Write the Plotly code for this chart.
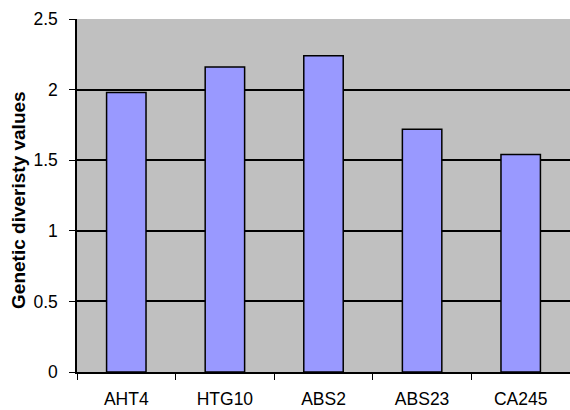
import plotly.graph_objects as go

# Genetic diversity per microsatellite locus
loci = ["AHT4", "HTG10", "ABS2", "ABS23", "CA245"]
diversity = [1.98, 2.16, 2.24, 1.72, 1.54]
y_ticks = [0, 0.5, 1, 1.5, 2, 2.5]
y_tick_labels = ["0", "0.5", "1", "1.5", "2", "2.5"]
y_title = "Genetic diveristy values"

font_family = "Liberation Sans, Arial, sans-serif"

fig = go.Figure(
    go.Bar(
        x=loci,
        y=diversity,
        width=0.4,
        marker=dict(color="#9999FF", line=dict(color="black", width=1.5)),
    )
)

fig.update_layout(
    width=570,
    height=410,
    margin=dict(l=77, r=0, t=19, b=38),
    paper_bgcolor="white",
    plot_bgcolor="#C0C0C0",
    font=dict(family=font_family, size=17.5, color="black"),
    showlegend=False,
)

fig.update_xaxes(
    type="category",
    range=[-0.5, 4.5],
    showline=True,
    linecolor="black",
    linewidth=1.5,
    ticks="outside",
    tickson="boundaries",
    ticklen=6,
    tickcolor="black",
    tickwidth=1,
    showgrid=False,
    tickfont=dict(size=17.5),
    ticklabelstandoff=10,
)

fig.update_yaxes(
    range=[0, 2.5],
    tickvals=y_ticks,
    ticktext=y_tick_labels,
    showline=True,
    linecolor="black",
    linewidth=1.5,
    ticks="outside",
    ticklen=6,
    tickcolor="black",
    tickwidth=1,
    showgrid=True,
    gridcolor="black",
    gridwidth=1.5,
    zeroline=False,
    tickfont=dict(size=17.5),
    ticklabelstandoff=8,
)

# Vertical axis title placed as a rotated annotation left of the tick labels
fig.add_annotation(
    text=f"<b>{y_title}</b>",
    textangle=-90,
    xref="paper",
    yref="paper",
    x=-0.12,
    y=0.487,
    xanchor="center",
    yanchor="middle",
    showarrow=False,
    font=dict(size=19, family=font_family, color="black"),
)

fig.write_html("out.html")
